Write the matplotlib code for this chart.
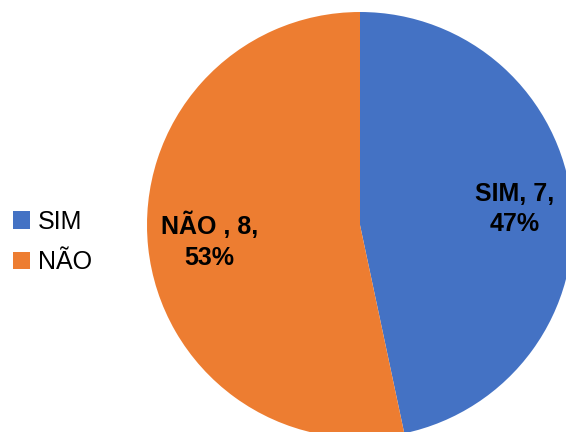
import matplotlib.pyplot as plt
import numpy as np

categories = ['SIM', 'NÃO']
counts = [7, 8]
colors = ['#4472C4', '#ED7D31']

plt.rcParams['font.family'] = ['Liberation Sans', 'DejaVu Sans']

fig = plt.figure(figsize=(5.66, 4.32), dpi=100)
ax = fig.add_axes([0, 0, 1, 1])

radius = 213
center = (360, 207)
wedges, _ = ax.pie(counts, colors=colors, startangle=90, counterclock=False,
                   radius=radius, center=center, frame=True)
ax.set_xlim(0, 566)
ax.set_ylim(0, 432)
ax.set_aspect('equal')
ax.axis('off')

total = sum(counts)
for w, name, n in zip(wedges, categories, counts):
    ang = np.deg2rad((w.theta1 + w.theta2) / 2)
    pct = round(100 * n / total)
    sep = ' , ' if name == 'NÃO' else ', '
    x = center[0] + 0.72 * radius * np.cos(ang)
    y = center[1] + 0.72 * radius * np.sin(ang)
    ax.text(x + 2, y, f'{name}{sep}{n},\n{pct}%', ha='center', va='center',
            fontsize=18, fontweight='bold', linespacing=1.35)

ax.legend(wedges, categories, loc='center left', bbox_to_anchor=(0.0, 0.44),
          frameon=False, fontsize=18, handlelength=0.7, handleheight=0.7,
          handletextpad=0.3, labelspacing=0.65, borderaxespad=0.1)

fig.savefig('out.png', dpi=100)
